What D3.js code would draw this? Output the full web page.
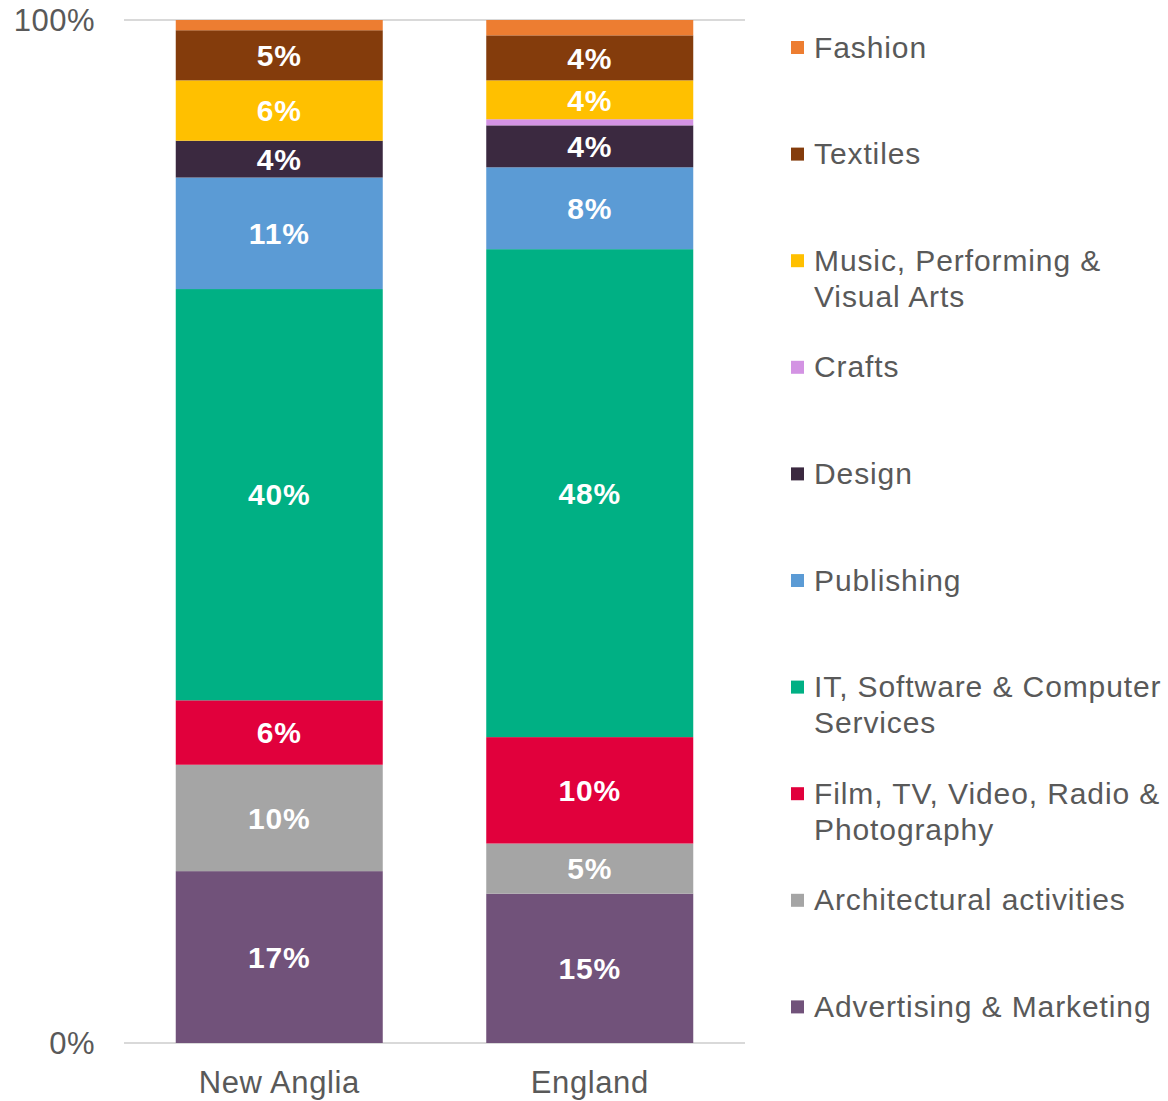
<!DOCTYPE html>
<html>
<head>
<meta charset="utf-8">
<script src="https://cdn.jsdelivr.net/npm/d3@7"></script>
<style>
  html, body { margin: 0; padding: 0; background: #fff; }
  svg { display: block; font-family: "Liberation Sans", Arial, sans-serif; }
</style>
</head>
<body>
<svg id="chart" width="1168" height="1101"></svg>
<script>
// Creative industries employment share by sub-sector
const regions = ["New Anglia", "England"];
const sectors = [
  "Advertising & Marketing",
  "Architectural activities",
  "Film, TV, Video, Radio & Photography",
  "IT, Software & Computer Services",
  "Publishing",
  "Design",
  "Crafts",
  "Music, Performing & Visual Arts",
  "Textiles",
  "Fashion"
];
// percentages, in the same order as sectors (bottom of the stack first)
const newAnglia = [16.8, 10.4, 6.3, 40.2, 10.9, 3.6, 0.0, 5.9, 4.9, 1.0];
const england   = [14.6, 4.9, 10.4, 47.7, 8.0, 4.1, 0.6, 3.8, 4.4, 1.5];
const sectorColors = ["#71527A", "#A5A5A5", "#E1003C", "#00B084", "#5B9BD5",
                      "#3B2940", "#D393E3", "#FFC000", "#843C0C", "#ED7D31"];
// legend text, top entry first, split into lines
const legendLines = [
  ["Fashion"],
  ["Textiles"],
  ["Music, Performing &", "Visual Arts"],
  ["Crafts"],
  ["Design"],
  ["Publishing"],
  ["IT, Software & Computer", "Services"],
  ["Film, TV, Video, Radio &", "Photography"],
  ["Architectural activities"],
  ["Advertising & Marketing"]
];
const yTicks = [0, 100];
const yTickLabels = ["0%", "100%"];

const rows = regions.map((r, i) => {
  const vals = i === 0 ? newAnglia : england;
  const o = { region: r };
  sectors.forEach((s, j) => { o[s] = vals[j]; });
  return o;
});

const svg = d3.select("#chart");
const x = d3.scaleBand().domain(regions).range([124, 745])
  .paddingInner(1 / 3).paddingOuter(1 / 6);
const y = d3.scaleLinear().domain([0, 100]).range([1043, 20]);
const color = d3.scaleOrdinal().domain(sectors).range(sectorColors);

// gridlines
svg.append("g").selectAll("line").data(yTicks).join("line")
  .attr("x1", 124).attr("x2", 745)
  .attr("y1", d => y(d)).attr("y2", d => y(d))
  .attr("stroke", "#D9D9D9").attr("stroke-width", 2);

// y tick labels
svg.append("g").selectAll("text").data(yTicks).join("text")
  .attr("x", 95).attr("y", d => y(d))
  .attr("dy", "0.35em")
  .attr("text-anchor", "end")
  .attr("fill", "#595959")
  .style("font-size", "31px")
  .style("letter-spacing", "0.5px")
  .text((d, i) => yTickLabels[i]);

const stacked = d3.stack().keys(sectors)(rows);

const layers = svg.append("g").selectAll("g").data(stacked).join("g")
  .attr("fill", d => color(d.key));
layers.selectAll("rect").data(d => d).join("rect")
  .attr("x", d => x(d.data.region))
  .attr("width", x.bandwidth())
  .attr("y", d => y(d[1]))
  .attr("height", d => y(d[0]) - y(d[1]));

// value labels
const labels = svg.append("g");
stacked.forEach(layer => {
  layer.forEach(d => {
    const v = d[1] - d[0];
    if (v < 2) return;
    labels.append("text")
      .attr("x", x(d.data.region) + x.bandwidth() / 2)
      .attr("y", y((d[0] + d[1]) / 2))
      .attr("dy", "0.36em")
      .attr("text-anchor", "middle")
      .attr("fill", "#fff")
      .style("font-size", "30px")
      .style("font-weight", "bold")
      .style("letter-spacing", "0.8px")
      .text(Math.round(v) + "%");
  });
});

// category axis labels
svg.append("g").selectAll("text").data(regions).join("text")
  .attr("x", d => x(d) + x.bandwidth() / 2)
  .attr("y", 1082)
  .attr("dy", "0.35em")
  .attr("text-anchor", "middle")
  .attr("fill", "#595959")
  .style("font-size", "31px")
  .style("letter-spacing", "0.6px")
  .text(d => d);

// legend
const legendTop = 47, legendStep = 106.6, lineGap = 36;
const legendOrder = sectors.slice().reverse();
const lg = svg.append("g").selectAll("g").data(legendOrder).join("g")
  .attr("transform", (d, i) => `translate(0,${legendTop + i * legendStep})`);
lg.append("rect")
  .attr("x", 791).attr("y", -6).attr("width", 13).attr("height", 13)
  .attr("fill", d => color(d));
lg.each(function (d, i) {
  const g = d3.select(this);
  legendLines[i].forEach((line, k) => {
    g.append("text")
      .attr("x", 814).attr("y", k * lineGap)
      .attr("dy", "0.35em")
      .attr("fill", "#595959")
      .style("font-size", "30px")
      .style("letter-spacing", "0.9px")
      .text(line);
  });
});
</script>
</body>
</html>
